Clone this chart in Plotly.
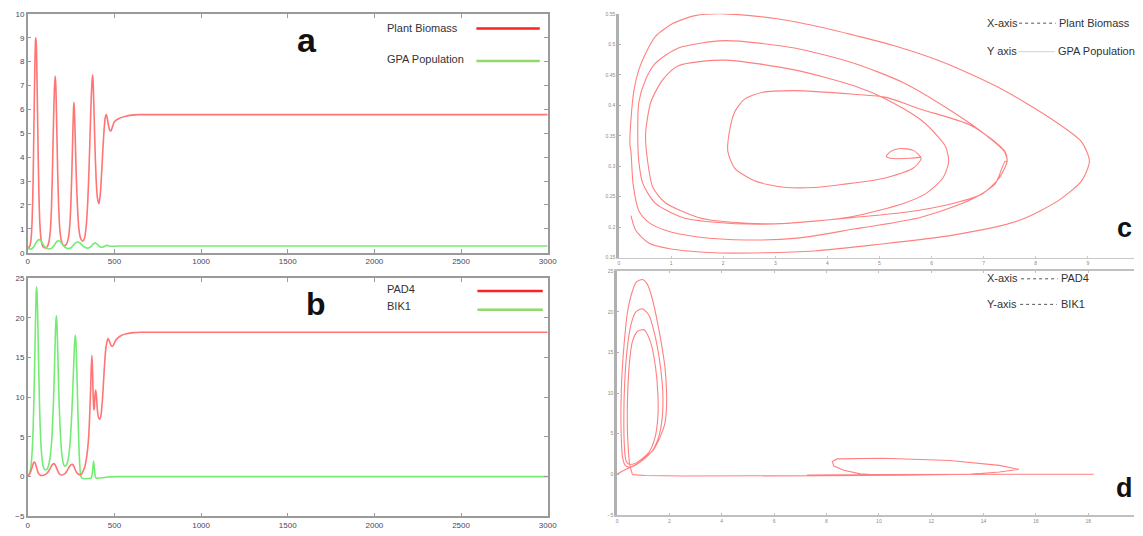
import plotly.graph_objects as go

W, H = 1143, 536

# ---------------- time series: Plant Biomass / GPA Population ----------------
t_plant = [0, 10, 18, 25, 31, 36, 41, 45, 47, 50, 54, 59, 64, 70, 78, 88, 100, 112, 122, 130,
           137, 143, 149, 154, 158, 162, 167, 172, 178, 186, 196, 208, 222, 234, 243, 250, 256,
           261, 264, 266, 269, 274, 280, 287, 295, 305, 317, 327, 337, 346, 354, 361, 367, 371,
           374, 377, 382, 388, 395, 402, 411, 418, 426, 434, 441, 447, 452, 457, 464, 472, 480,
           488, 497, 510, 530, 560, 600, 640, 3000]
plant_biomass = [0.2, 0.25, 0.5, 1.3, 3.0, 5.5, 7.8, 8.9, 9.0, 8.6, 7.0, 4.6, 2.6, 1.2, 0.5, 0.25,
                 0.2, 0.25, 0.45, 0.9, 1.9, 3.6, 5.6, 6.9, 7.4, 7.0, 5.4, 3.6, 2.0, 0.9, 0.45, 0.3,
                 0.35, 0.6, 1.2, 2.3, 3.8, 5.3, 6.0, 6.3, 6.0, 4.8, 3.2, 1.9, 1.0, 0.6, 0.48, 0.6,
                 1.1, 2.1, 3.6, 5.3, 6.6, 7.2, 7.45, 7.2, 6.0, 4.4, 3.0, 2.3, 2.05, 2.4, 3.3, 4.4,
                 5.2, 5.65, 5.78, 5.7, 5.4, 5.15, 5.1, 5.25, 5.45, 5.55, 5.63, 5.7, 5.76, 5.78, 5.78]

t_gpa = [0, 8, 16, 26, 36, 46, 56, 66, 76, 86, 96, 108, 123, 138, 150, 160, 170, 179, 190, 202,
         214, 226, 238, 252, 264, 276, 289, 300, 312, 326, 340, 352, 364, 375, 384, 392, 402, 414,
         425, 437, 448, 458, 470, 485, 520, 3000]
gpa_population = [0.22, 0.17, 0.15, 0.18, 0.27, 0.4, 0.51, 0.55, 0.5, 0.38, 0.26, 0.19, 0.16, 0.19,
                  0.28, 0.4, 0.48, 0.5, 0.45, 0.33, 0.23, 0.19, 0.18, 0.22, 0.32, 0.41, 0.45, 0.42,
                  0.33, 0.24, 0.2, 0.2, 0.26, 0.35, 0.4, 0.41, 0.35, 0.26, 0.23, 0.25, 0.29, 0.31,
                  0.28, 0.27, 0.28, 0.28]

# ---------------- time series: PAD4 / BIK1 ----------------
t_pad4 = [0, 10, 20, 28, 34, 38, 43, 50, 58, 66, 76, 88, 100, 112, 124, 135, 144, 150, 156, 164,
          172, 182, 194, 206, 218, 230, 242, 250, 256, 262, 270, 280, 292, 302, 310, 320, 330, 338,
          346, 352, 357, 362, 366, 370, 373, 377, 381, 384, 388, 392, 396, 402, 409, 416, 423, 432,
          440, 448, 456, 464, 471, 479, 487, 495, 505, 520, 540, 570, 610, 650, 3000]
pad4 = [0, 0.3, 0.8, 1.4, 1.75, 1.85, 1.7, 1.2, 0.6, 0.3, 0.15, 0.15, 0.25, 0.45, 0.8, 1.25, 1.55,
        1.65, 1.55, 1.2, 0.75, 0.35, 0.2, 0.25, 0.45, 0.85, 1.3, 1.5, 1.55, 1.45, 1.1, 0.6, 0.3,
        0.25, 0.3, 0.7, 1.3, 2.2, 3.6, 5.2, 7.5, 10.5, 13.5, 15.3, 14.0, 10.5, 8.4, 8.6, 10.3, 10.9,
        10.2, 8.3, 7.4, 7.25, 7.8, 10.0, 13.0, 15.6, 16.9, 17.4, 17.1, 16.6, 16.4, 16.6, 17.1, 17.5,
        17.8, 18.0, 18.15, 18.2, 18.2]

t_bik1 = [0, 10, 18, 25, 31, 37, 42, 46, 49, 51, 54, 58, 63, 68, 74, 81, 89, 99, 110, 120, 130,
          139, 146, 152, 157, 161, 165, 169, 174, 180, 187, 195, 204, 213, 224, 235, 244, 252, 259,
          265, 270, 274, 278, 283, 289, 295, 300, 305, 310, 320, 345, 365, 372, 376, 380, 384, 388,
          393, 405, 430, 460, 520, 3000]
bik1 = [0, 0.4, 1.2, 3.0, 6.0, 11.0, 16.5, 21.0, 23.3, 23.9, 23.0, 19.5, 14.0, 9.0, 5.0, 2.6, 1.3,
        0.85, 0.9, 1.4, 2.6, 4.8, 8.0, 12.0, 16.0, 19.0, 20.3, 19.0, 15.0, 10.0, 6.0, 3.2, 1.8, 1.3,
        1.5, 2.4, 4.2, 7.0, 10.5, 14.0, 16.8, 17.8, 17.0, 13.5, 8.5, 4.0, 1.5, 0.2, -0.15, -0.25,
        -0.25, -0.2, 0.3, 1.2, 1.95, 1.2, 0.2, -0.15, -0.2, -0.15, -0.05, 0, 0]

# ---------------- phase portrait: Plant Biomass vs GPA Population ----------------
phase_plant = [0.23, 0.32, 0.57, 0.95, 1.84, 2.79, 3.75, 4.89, 6.41, 7.68, 8.44, 8.88, 9.03, 8.88,
               8.31, 7.36, 6.27, 5.27, 4.51, 3.99, 3.04, 2.02, 1.46, 1.03, 0.70, 0.51, 0.38, 0.29,
               0.23, 0.21, 0.23, 0.27, 0.38, 0.57, 0.89, 1.52, 2.47, 3.42, 4.51, 4.89, 5.78, 6.73,
               7.22, 7.41,
               7.45, 7.40, 7.03, 6.41, 5.46, 4.51, 3.37, 2.02, 1.14, 0.70, 0.51, 0.38, 0.36, 0.38,
               0.46, 0.70, 1.22, 1.84, 2.79, 3.75, 4.51, 5.46, 5.89, 6.22, 6.33,
               6.27, 6.16, 5.78, 5.13, 4.51, 3.37, 2.02, 1.14, 0.84, 0.61, 0.51, 0.55, 0.65, 0.89,
               1.52, 2.17, 3.12, 3.88, 4.51, 5.46, 6.41, 6.98, 7.30, 7.45,
               7.41, 7.22, 6.73, 5.78, 5.13, 4.51, 3.37, 2.74, 2.41, 2.22, 2.11, 2.09, 2.22, 2.60,
               3.12, 3.75, 4.37, 4.89, 5.13, 5.65, 5.80, 5.65, 5.40, 5.21, 5.13, 5.21, 5.59, 5.80]
phase_gpa = [0.219, 0.195, 0.174, 0.165, 0.158, 0.158, 0.161, 0.171, 0.187, 0.211, 0.244, 0.276,
             0.308, 0.340, 0.377, 0.426, 0.469, 0.498, 0.515, 0.526, 0.542, 0.550, 0.547, 0.534,
             0.513, 0.485, 0.458, 0.426, 0.377, 0.335, 0.324, 0.271, 0.227, 0.208, 0.195, 0.184,
             0.179, 0.182, 0.197, 0.202, 0.216, 0.244, 0.271, 0.308,
             0.308, 0.324, 0.352, 0.389, 0.437, 0.469, 0.494, 0.506, 0.494, 0.469, 0.442, 0.405,
             0.352, 0.308, 0.271, 0.239, 0.216, 0.208, 0.205, 0.210, 0.218, 0.239, 0.255, 0.281,
             0.308,
             0.332, 0.345, 0.377, 0.410, 0.432, 0.458, 0.474, 0.465, 0.442, 0.405, 0.352, 0.308,
             0.265, 0.240, 0.216, 0.208, 0.206, 0.211, 0.216, 0.224, 0.239, 0.255, 0.281, 0.308,
             0.324, 0.340, 0.368, 0.394, 0.413, 0.418, 0.424, 0.421, 0.410, 0.389, 0.352, 0.324,
             0.297, 0.276, 0.266, 0.265, 0.271, 0.277, 0.281, 0.297, 0.313, 0.326, 0.329, 0.324,
             0.316, 0.313, 0.313, 0.315]

# ---------------- phase portrait: PAD4 vs BIK1 ----------------
phase_pad4_loops = [0, 0.34, 0.72, 1.10, 1.41, 1.66, 1.83, 1.89, 1.89, 1.83, 1.70, 1.54, 1.35, 1.16,
                    0.97, 0.74, 0.57, 0.40, 0.28, 0.19, 0.15, 0.16, 0.21, 0.31, 0.47, 0.66,
                    0.97, 1.35, 1.60, 1.73, 1.75, 1.66, 1.47, 1.22, 0.97, 0.72, 0.53, 0.38, 0.29,
                    0.26, 0.28, 0.34, 0.44, 0.66,
                    0.91, 1.22, 1.45, 1.56, 1.56, 1.47, 1.29, 1.03, 0.78, 0.59, 0.47, 0.40, 0.40,
                    0.44, 0.47, 0.50, 0.54, 0.59]
phase_bik1_loops = [0, 0.6, 1.2, 2.1, 3.1, 4.7, 6.3, 8.3, 10.3, 13.2, 16.0, 18.8, 21.6, 23.4,
                    24.0, 23.7, 22.4, 20.0, 16.4, 12.4, 8.3, 4.7, 2.1, 1.1, 0.85, 1.05,
                    1.7, 2.9, 4.7, 7.1, 9.9, 13.2, 16.8, 19.6, 20.4, 20.0, 18.4, 15.2, 11.1,
                    7.1, 3.5, 1.7, 1.25, 1.3,
                    1.8, 2.7, 4.5, 7.1, 9.9, 13.2, 16.2, 17.8, 17.6, 16.4, 13.6, 9.1, 5.1,
                    2.7, 1.5, 1.0, 0.5, -0.05]
phase_pad4_tail = [0.59, 1.1, 2.5, 5.0, 8.0, 11.0, 13.5, 14.6, 15.34, 14.6, 12.7, 10.17, 8.41, 8.22,
                   8.28, 8.66, 9.29, 10.0, 10.9, 9.0, 7.25, 9.5, 12.0, 15.0, 17.4, 16.4, 17.5, 18.2]
phase_bik1_tail = [-0.05, -0.15, -0.22, -0.22, -0.18, -0.12, 0.0, 0.28, 0.6, 1.09, 1.69, 1.97, 1.89,
                   1.57, 1.0, 0.48, 0.04, -0.1, -0.15, -0.15, -0.1, -0.05, 0, 0, 0, 0, 0, 0]

# ---------------- styling ----------------
RED_LINE = "#ff7474"
GREEN_LINE = "#74ec74"
PHASE_RED = "#ff8080"
TICK_TXT = "#4a4666"
BOX = "#9a9a9a"
FONT = "Liberation Sans, Arial, sans-serif"


def fx(p):
    return p / W


def fy(p):
    return 1 - p / H


fig = go.Figure()

fig.add_trace(go.Scatter(x=t_plant, y=plant_biomass, mode="lines", xaxis="x", yaxis="y",
                         line=dict(color=RED_LINE, width=1.6, shape="spline", smoothing=0.6)))
fig.add_trace(go.Scatter(x=t_gpa, y=gpa_population, mode="lines", xaxis="x", yaxis="y",
                         line=dict(color=GREEN_LINE, width=1.6, shape="spline", smoothing=0.6)))
fig.add_trace(go.Scatter(x=t_bik1, y=bik1, mode="lines", xaxis="x2", yaxis="y2",
                         line=dict(color=GREEN_LINE, width=1.6, shape="spline", smoothing=0.6)))
fig.add_trace(go.Scatter(x=t_pad4, y=pad4, mode="lines", xaxis="x2", yaxis="y2",
                         line=dict(color=RED_LINE, width=1.6, shape="spline", smoothing=0.6)))
fig.add_trace(go.Scatter(x=phase_plant, y=phase_gpa, mode="lines", xaxis="x3", yaxis="y3",
                         line=dict(color=PHASE_RED, width=1.1, shape="spline", smoothing=0.7)))
fig.add_trace(go.Scatter(x=phase_pad4_loops, y=phase_bik1_loops, mode="lines", xaxis="x4", yaxis="y4",
                         line=dict(color=PHASE_RED, width=1.1, shape="spline", smoothing=0.7)))
fig.add_trace(go.Scatter(x=phase_pad4_tail, y=phase_bik1_tail, mode="lines", xaxis="x4", yaxis="y4",
                         line=dict(color=PHASE_RED, width=1.1)))

box_axis = dict(showline=True, linecolor=BOX, linewidth=1.5, mirror="ticks", ticks="inside",
                ticklen=4, tickcolor=BOX, showgrid=False, zeroline=False,
                tickfont=dict(family=FONT, size=8, color=TICK_TXT))
thin_axis = dict(showline=True, showgrid=False, zeroline=False, ticks="inside", ticklen=2,
                 tickfont=dict(family=FONT, size=5, color="#8a8a8a"))

time_ticks = [0, 500, 1000, 1500, 2000, 2500, 3000]

layout = dict(
    width=W, height=H, margin=dict(l=0, r=0, t=0, b=0),
    paper_bgcolor="white", plot_bgcolor="white", showlegend=False,
    xaxis=dict(box_axis, domain=[fx(26), fx(551)], anchor="y", range=[0, 3000], tickvals=time_ticks),
    yaxis=dict(box_axis, domain=[fy(253), fy(10)], anchor="x", range=[0, 10], dtick=1),
    xaxis2=dict(box_axis, domain=[fx(26), fx(551)], anchor="y2", range=[0, 3000], tickvals=time_ticks),
    yaxis2=dict(box_axis, domain=[fy(521), fy(279)], anchor="x2", range=[-5, 25], dtick=5),
    xaxis3=dict(thin_axis, domain=[fx(623), 1], anchor="y3", range=[0, 520 / 52.6], dtick=1,
                linecolor="#c8c8c8", linewidth=1, tickcolor="#c8c8c8"),
    yaxis3=dict(thin_axis, domain=[fy(258), fy(10)], anchor="x3", range=[0.15, 0.55], dtick=0.05,
                linecolor="#b0b0b0", linewidth=2.5, tickcolor="#b0b0b0"),
    xaxis4=dict(thin_axis, domain=[fx(621), 1], anchor="y4", range=[0, 522 / 26.44], dtick=2,
                linecolor="#c0c0c0", linewidth=1.5, mirror="ticks", tickcolor="#c0c0c0"),
    yaxis4=dict(thin_axis, domain=[fy(519.5), fy(272)], anchor="x4", range=[-5, 25], dtick=5,
                linecolor="#b0b0b0", linewidth=2.5, tickcolor="#b0b0b0"),
)
fig.update_layout(**layout)

annotations = []
shapes = []


def label(x, y, text, size=11, bold=False, anchor="left", color="#333333"):
    annotations.append(dict(x=fx(x), y=fy(y), xref="paper", yref="paper", text=text,
                            showarrow=False, xanchor=anchor, yanchor="middle",
                            font=dict(family=FONT, size=size, color=color,
                                      weight="bold" if bold else "normal")))


def seg(x0, x1, y, color, width, dash="solid"):
    shapes.append(dict(type="line", xref="paper", yref="paper", x0=fx(x0), x1=fx(x1),
                       y0=fy(y), y1=fy(y), line=dict(color=color, width=width, dash=dash)))


# legend for the Plant Biomass / GPA panel
label(387, 24, "Plant Biomass")
label(387, 56, "GPA Population")
seg(479, 543, 25, "#ff2020", 2.5)
seg(479, 543, 58, "#92d86c", 2.5)
label(308, 37, "a", size=34, bold=True, anchor="center", color="#111111")

# legend for the PAD4 / BIK1 panel
label(387, 290, "PAD4")
label(387, 307, "BIK1")
seg(480, 546, 292, "#ff2020", 2.5)
seg(480, 546, 311, "#92d86c", 2.5)
label(317, 305, "b", size=32, bold=True, anchor="center", color="#111111")

# axis keys for the phase portraits
label(993, 19, "X-axis")
seg(1027, 1064, 19.5, "#555555", 1, "dot")
label(1065, 19, "Plant Biomass")
label(993, 48, "Y axis")
seg(1026, 1063, 48.5, "#c8c8c8", 0.8)
label(1064, 48, "GPA Population")
label(1133, 228, "c", size=27, bold=True, anchor="center", color="#111111")

label(993, 279, "X-axis")
seg(1029, 1066, 279.5, "#555555", 1, "dot")
label(1067, 279, "PAD4")
label(993, 305, "Y-axis")
seg(1028, 1065, 305.5, "#555555", 1, "dot")
label(1067, 305, "BIK1")
label(1133, 492, "d", size=27, bold=True, anchor="center", color="#111111")

fig.update_layout(annotations=annotations, shapes=shapes)

fig.write_html("out.html")
